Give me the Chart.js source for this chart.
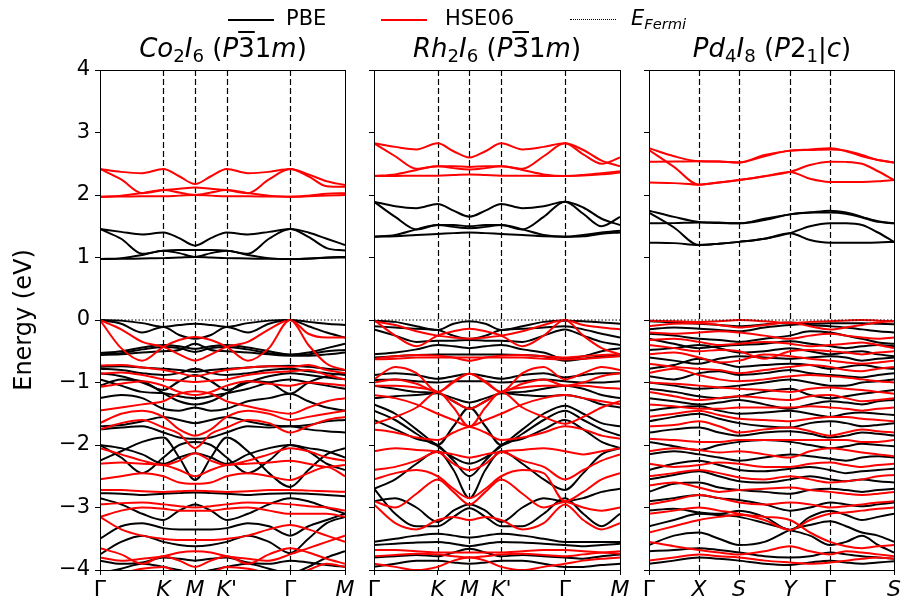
<!DOCTYPE html>
<html>
<head>
<meta charset="utf-8">
<script src="https://cdn.jsdelivr.net/npm/chart.js@4.4.1/dist/chart.umd.min.js"></script>
<style>
body { margin: 0; background: #fff; font-family: "DejaVu Sans", sans-serif; }
#wrap { position: relative; width: 903px; height: 603px; overflow: hidden; }
canvas { position: absolute; left: 0; top: 0; }
.ttl { position: absolute; top: 33px; width: 260px; text-align: center; font-size: 26px; color: #000; white-space: nowrap; }
.ttl sub { font-size: 0.7em; vertical-align: -0.25em; line-height: 0; }
.ov { text-decoration: overline; }
.leg { position: absolute; top: 6px; font-size: 21px; color: #000; white-space: nowrap; }
.leg sub { font-size: 0.7em; vertical-align: -0.3em; line-height: 0; }
.hl { position: absolute; top: 19px; height: 0; }
</style>
</head>
<body>
<div id="wrap">
  <canvas id="c1" width="903" height="603"></canvas>
  <canvas id="c2" width="903" height="603"></canvas>
  <canvas id="c3" width="903" height="603"></canvas>

  <div class="hl" style="left:228px;width:46px;border-top:2px solid #000"></div>
  <div class="leg" style="left:286px">PBE</div>
  <div class="hl" style="left:381px;width:46px;border-top:2px solid red"></div>
  <div class="leg" style="left:445px">HSE06</div>
  <div class="hl" style="left:570px;width:46px;border-top:1px dotted #000"></div>
  <div class="leg" style="left:631px"><i>E</i><sub><i>Fermi</i></sub></div>

  <div class="ttl" style="left:93px"><i>Co</i><sub>2</sub><i>I</i><sub>6</sub> (<i>P</i><span class="ov">3</span>1<i>m</i>)</div>
  <div class="ttl" style="left:367px"><i>Rh</i><sub>2</sub><i>I</i><sub>6</sub> (<i>P</i><span class="ov">3</span>1<i>m</i>)</div>
  <div class="ttl" style="left:642px"><i>Pd</i><sub>4</sub><i>I</i><sub>8</sub> (<i>P</i>2<sub>1</sub>|<i>c</i>)</div>
</div>
<script>
// k-path sampling (hexagonal: Γ-K-M-K'-Γ-M, monoclinic: Γ-X-S-Y-Γ-S)
const kHex = [0, 0.385, 0.770, 1.155, 1.443, 1.732, 2.021, 2.309, 2.694, 3.079, 3.464, 3.797, 4.131, 4.464];
const hexSym = [0, 1.155, 1.732, 2.309, 3.464, 4.464];
const hexLabels = ['Γ', 'K', 'M', "K'", 'Γ', 'M'];

const kPd = [0, 0.5, 1.0, 1.4, 1.8, 2.31, 2.82, 3.22, 3.62, 3.94, 4.26, 4.58, 4.9];
const pdSym = [0, 1.0, 1.8, 2.82, 3.62, 4.9];
const pdLabels = ['Γ', 'X', 'S', 'Y', 'Γ', 'S'];

// Co2I6
const coPbeCond = [
  [1.456, 1.41, 1.37, 1.40, 1.31, 1.19, 1.31, 1.40, 1.37, 1.41, 1.456, 1.40, 1.30, 1.20],
  [1.456, 1.30, 1.06, 1.11, 1.12, 1.12, 1.12, 1.11, 1.06, 1.30, 1.456, 1.33, 1.15, 1.11],
  [0.976, 0.99, 1.04, 1.11, 1.07, 1.01, 1.07, 1.11, 1.04, 0.99, 0.976, 0.98, 1.00, 1.01],
  [0.976, 0.978, 0.985, 0.99, 1.00, 1.01, 1.00, 0.99, 0.985, 0.978, 0.976, 0.985, 0.995, 1.00]
];
const coHseCond = [
  [2.416, 2.37, 2.35, 2.416, 2.30, 2.176, 2.30, 2.416, 2.35, 2.37, 2.416, 2.33, 2.22, 2.16],
  [2.416, 2.25, 2.03, 2.08, 2.10, 2.12, 2.10, 2.08, 2.03, 2.25, 2.416, 2.30, 2.14, 2.13],
  [1.973, 1.99, 2.03, 2.08, 2.04, 2.00, 2.04, 2.08, 2.03, 1.99, 1.973, 1.99, 2.02, 2.03],
  [1.973, 1.975, 1.98, 1.98, 1.99, 2.00, 1.99, 1.98, 1.98, 1.975, 1.973, 1.98, 1.99, 2.00]
];
const coPbeVal = [
  [0, -0.01, -0.05, -0.11, -0.08, -0.06, -0.08, -0.11, -0.05, -0.01, 0, -0.03, -0.06, -0.08],
  [0, -0.06, -0.20, -0.11, -0.24, -0.30, -0.24, -0.11, -0.20, -0.06, 0, -0.10, -0.20, -0.28],
  [-0.53, -0.50, -0.44, -0.40, -0.42, -0.46, -0.42, -0.40, -0.44, -0.50, -0.55, -0.52, -0.45, -0.38],
  [-0.55, -0.53, -0.47, -0.43, -0.45, -0.51, -0.45, -0.43, -0.47, -0.53, -0.56, -0.55, -0.50, -0.48],
  [-0.56, -0.55, -0.52, -0.50, -0.48, -0.38, -0.48, -0.50, -0.52, -0.55, -0.57, -0.57, -0.55, -0.52],
  [-0.75, -0.74, -0.76, -0.78, -0.80, -0.83, -0.80, -0.78, -0.76, -0.74, -0.73, -0.75, -0.78, -0.80],
  [-0.78, -0.80, -0.85, -0.88, -0.85, -0.78, -0.85, -0.88, -0.85, -0.80, -0.78, -0.82, -0.85, -0.88],
  [-0.85, -0.90, -1.00, -1.12, -0.98, -0.88, -0.98, -1.12, -1.00, -0.90, -0.85, -0.88, -0.92, -0.95],
  [-0.95, -1.05, -1.15, -1.17, -1.22, -1.25, -1.22, -1.17, -1.10, -1.00, -0.95, -1.00, -1.05, -1.10],
  [-1.05, -0.95, -0.98, -1.17, -1.30, -1.35, -1.30, -1.17, -0.98, -1.00, -1.18, -1.00, -0.90, -0.85],
  [-1.25, -1.20, -1.25, -1.42, -1.45, -1.40, -1.45, -1.42, -1.30, -1.25, -1.18, -1.30, -1.40, -1.45],
  [-1.70, -1.68, -1.62, -1.55, -1.60, -1.65, -1.60, -1.55, -1.62, -1.68, -1.70, -1.68, -1.62, -1.60],
  [-1.75, -1.72, -1.70, -1.80, -1.88, -1.90, -1.88, -1.80, -1.70, -1.72, -1.70, -1.75, -1.78, -1.80],
  [-2.25, -2.10, -1.95, -1.88, -2.20, -2.56, -2.20, -1.88, -2.10, -2.45, -2.67, -2.40, -2.15, -2.05],
  [-2.00, -2.20, -2.45, -2.20, -2.00, -1.95, -2.00, -2.20, -2.45, -2.25, -2.00, -2.10, -2.30, -2.40],
  [-2.00, -2.05, -2.15, -2.30, -2.20, -2.13, -2.20, -2.30, -2.15, -2.05, -2.00, -2.05, -2.10, -2.20],
  [-2.77, -2.78, -2.80, -2.78, -2.77, -2.76, -2.77, -2.78, -2.80, -2.78, -2.77, -2.78, -2.80, -2.82],
  [-2.85, -2.95, -3.10, -3.20, -3.05, -2.95, -3.05, -3.20, -3.10, -2.95, -2.85, -2.90, -3.00, -3.10],
  [-3.50, -3.30, -3.25, -3.33, -3.35, -3.35, -3.35, -3.33, -3.25, -3.30, -3.45, -3.30, -3.20, -3.10],
  [-3.75, -3.55, -3.45, -3.55, -3.60, -3.62, -3.60, -3.55, -3.45, -3.55, -3.73, -3.50, -3.25, -3.15],
  [-3.85, -3.90, -3.88, -3.80, -3.82, -3.85, -3.82, -3.80, -3.88, -3.90, -3.85, -3.88, -3.92, -3.95],
  [-4.05, -3.98, -3.90, -3.95, -4.00, -4.05, -4.00, -3.95, -3.90, -3.98, -4.05, -3.95, -3.80, -3.70]
];
const coHseVal = [
  [0, -0.45, -0.65, -0.43, -0.32, -0.27, -0.32, -0.43, -0.65, -0.45, 0, -0.22, -0.28, -0.28],
  [0, -0.15, -0.35, -0.43, -0.55, -0.65, -0.55, -0.43, -0.35, -0.15, 0, -0.40, -0.70, -0.80],
  [-0.73, -0.72, -0.76, -0.80, -0.85, -0.90, -0.85, -0.80, -0.76, -0.74, -0.75, -0.72, -0.80, -0.85],
  [-0.86, -0.84, -0.88, -0.95, -0.97, -0.99, -0.97, -0.95, -0.88, -0.84, -0.82, -0.80, -0.88, -0.95],
  [-1.07, -1.02, -0.98, -1.05, -1.15, -1.20, -1.15, -1.05, -0.98, -1.02, -1.05, -1.00, -1.02, -1.05],
  [-1.45, -1.40, -1.35, -1.30, -1.18, -1.14, -1.18, -1.30, -1.38, -1.45, -1.50, -1.40, -1.30, -1.25],
  [-1.65, -1.50, -1.45, -1.55, -1.75, -1.85, -1.75, -1.55, -1.45, -1.50, -1.60, -1.55, -1.50, -1.45],
  [-1.75, -1.65, -1.60, -1.72, -1.82, -2.05, -1.82, -1.72, -1.60, -1.65, -1.80, -1.70, -1.60, -1.55],
  [-2.05, -2.15, -2.25, -2.32, -2.25, -2.13, -2.25, -2.32, -2.25, -2.15, -2.05, -2.10, -2.20, -2.25],
  [-2.30, -2.28, -2.30, -2.32, -2.40, -2.50, -2.40, -2.32, -2.30, -2.28, -2.25, -2.30, -2.35, -2.32],
  [-2.55, -2.50, -2.45, -2.50, -2.60, -2.62, -2.60, -2.50, -2.45, -2.50, -2.56, -2.45, -2.35, -2.50],
  [-2.72, -2.72, -2.74, -2.75, -2.74, -2.73, -2.74, -2.75, -2.74, -2.72, -2.72, -2.73, -2.74, -2.75],
  [-2.95, -2.93, -2.92, -2.95, -2.98, -3.00, -2.98, -2.95, -2.92, -2.93, -2.95, -2.98, -3.00, -3.05],
  [-3.15, -3.05, -3.00, -3.02, -3.05, -3.05, -3.05, -3.02, -3.00, -3.05, -3.10, -3.10, -3.10, -3.15],
  [-3.15, -3.35, -3.45, -3.50, -3.52, -3.52, -3.52, -3.50, -3.45, -3.35, -3.28, -3.35, -3.45, -3.55],
  [-3.80, -3.85, -3.82, -3.78, -3.72, -3.70, -3.72, -3.78, -3.82, -3.85, -3.75, -3.65, -3.55, -3.45],
  [-3.65, -3.75, -3.90, -3.78, -3.85, -3.95, -3.85, -3.78, -3.90, -3.75, -3.65, -3.72, -3.82, -3.90],
  [-4.10, -4.05, -3.98, -3.95, -4.05, -4.10, -4.05, -3.95, -3.98, -4.05, -4.10, -4.00, -3.90, -3.95]
];

// Rh2I6
const rhPbeCond = [
  [1.893, 1.82, 1.79, 1.856, 1.75, 1.653, 1.75, 1.856, 1.79, 1.82, 1.893, 1.80, 1.62, 1.52],
  [1.893, 1.65, 1.45, 1.52, 1.52, 1.50, 1.52, 1.52, 1.45, 1.65, 1.893, 1.70, 1.50, 1.65],
  [1.333, 1.36, 1.45, 1.52, 1.49, 1.47, 1.49, 1.52, 1.45, 1.36, 1.333, 1.36, 1.40, 1.43],
  [1.333, 1.34, 1.36, 1.376, 1.39, 1.40, 1.39, 1.376, 1.36, 1.34, 1.333, 1.34, 1.38, 1.40]
];
const rhHseCond = [
  [2.827, 2.77, 2.73, 2.827, 2.70, 2.60, 2.70, 2.827, 2.73, 2.77, 2.827, 2.72, 2.55, 2.46],
  [2.827, 2.62, 2.42, 2.46, 2.46, 2.45, 2.46, 2.46, 2.42, 2.62, 2.827, 2.65, 2.50, 2.60],
  [2.304, 2.33, 2.40, 2.46, 2.43, 2.41, 2.43, 2.46, 2.40, 2.33, 2.304, 2.32, 2.35, 2.38],
  [2.304, 2.305, 2.31, 2.31, 2.32, 2.33, 2.32, 2.31, 2.31, 2.305, 2.304, 2.31, 2.33, 2.36]
];
const rhPbeVal = [
  [-0.01, -0.03, -0.10, -0.16, -0.06, -0.02, -0.06, -0.16, -0.10, -0.03, -0.01, -0.02, -0.04, -0.06],
  [-0.10, -0.12, -0.14, -0.16, -0.25, -0.30, -0.25, -0.16, -0.14, -0.12, -0.10, -0.15, -0.22, -0.28],
  [-0.15, -0.25, -0.35, -0.33, -0.33, -0.32, -0.33, -0.33, -0.35, -0.25, -0.15, -0.25, -0.35, -0.40],
  [-0.55, -0.52, -0.47, -0.40, -0.42, -0.45, -0.42, -0.40, -0.47, -0.52, -0.62, -0.58, -0.50, -0.45],
  [-0.60, -0.58, -0.56, -0.55, -0.55, -0.55, -0.55, -0.55, -0.56, -0.58, -0.65, -0.62, -0.58, -0.55],
  [-0.88, -0.85, -0.88, -0.94, -0.90, -0.86, -0.90, -0.94, -0.88, -0.85, -0.92, -0.88, -0.85, -0.85],
  [-0.96, -0.95, -0.98, -1.00, -0.98, -0.98, -0.98, -1.00, -0.98, -0.95, -0.98, -1.00, -1.00, -0.98],
  [-1.05, -1.10, -1.15, -1.17, -1.25, -1.32, -1.25, -1.17, -1.15, -1.10, -1.05, -1.10, -1.20, -1.25],
  [-1.25, -1.22, -1.20, -1.17, -1.30, -1.42, -1.30, -1.17, -1.20, -1.22, -1.20, -1.25, -1.35, -1.40],
  [-1.45, -1.60, -1.82, -2.00, -1.70, -1.40, -1.70, -2.00, -1.82, -1.60, -1.45, -1.60, -1.75, -1.85],
  [-1.60, -1.75, -1.90, -2.00, -2.25, -2.50, -2.25, -2.00, -1.90, -1.75, -1.60, -1.75, -1.95, -2.05],
  [-1.35, -1.50, -1.75, -2.02, -2.20, -2.30, -2.20, -2.02, -1.75, -1.50, -1.37, -1.50, -1.65, -1.70],
  [-2.70, -2.55, -2.30, -2.10, -2.40, -2.85, -2.40, -2.10, -2.30, -2.55, -2.72, -2.45, -2.15, -2.05],
  [-2.90, -2.85, -3.00, -3.23, -3.05, -2.95, -3.05, -3.23, -3.00, -2.85, -2.90, -2.85, -2.75, -2.70],
  [-2.70, -3.10, -3.30, -3.30, -3.15, -3.01, -3.15, -3.30, -3.30, -3.10, -2.85, -3.10, -3.30, -3.10],
  [-3.55, -3.50, -3.45, -3.42, -3.45, -3.48, -3.45, -3.42, -3.45, -3.50, -3.55, -3.55, -3.55, -3.55],
  [-3.60, -3.58, -3.56, -3.55, -3.58, -3.62, -3.58, -3.55, -3.56, -3.58, -3.60, -3.62, -3.60, -3.58],
  [-3.80, -3.78, -3.76, -3.78, -3.72, -3.66, -3.72, -3.78, -3.76, -3.78, -3.80, -3.82, -3.78, -3.75],
  [-3.95, -3.90, -3.85, -3.85, -3.88, -3.90, -3.88, -3.85, -3.85, -3.90, -3.95, -3.95, -3.92, -3.90]
];
const rhHseVal = [
  [0, -0.25, -0.42, -0.25, -0.18, -0.14, -0.18, -0.25, -0.42, -0.25, 0, -0.08, -0.12, -0.15],
  [-0.02, -0.08, -0.18, -0.25, -0.28, -0.30, -0.28, -0.25, -0.18, -0.08, 0, -0.25, -0.45, -0.55],
  [-0.62, -0.58, -0.56, -0.57, -0.60, -0.65, -0.60, -0.57, -0.56, -0.58, -0.60, -0.58, -0.56, -0.55],
  [-0.63, -0.62, -0.60, -0.60, -0.60, -0.60, -0.60, -0.60, -0.60, -0.62, -0.63, -0.62, -0.60, -0.58],
  [-0.95, -0.75, -0.85, -1.15, -1.00, -0.86, -1.00, -1.15, -0.85, -0.75, -0.95, -0.85, -0.75, -0.80],
  [-1.00, -0.95, -1.02, -1.15, -0.98, -0.86, -0.98, -1.15, -1.02, -0.95, -1.05, -1.00, -0.90, -0.85],
  [-1.05, -1.05, -1.08, -1.15, -1.30, -1.42, -1.30, -1.15, -1.08, -1.05, -1.05, -1.05, -1.08, -1.10],
  [-1.20, -1.25, -1.35, -1.50, -1.60, -1.70, -1.60, -1.50, -1.35, -1.25, -1.20, -1.25, -1.30, -1.35],
  [-1.66, -1.55, -1.40, -1.15, -1.40, -1.71, -1.40, -1.15, -1.40, -1.55, -1.66, -1.55, -1.40, -1.30],
  [-1.75, -1.80, -1.88, -1.92, -1.80, -1.71, -1.80, -1.92, -1.88, -1.80, -1.70, -1.75, -1.85, -1.90],
  [-2.10, -2.05, -2.08, -2.11, -2.30, -2.40, -2.30, -2.11, -2.08, -2.05, -2.10, -2.15, -2.10, -2.05],
  [-2.40, -2.35, -2.25, -2.11, -2.15, -2.20, -2.15, -2.11, -2.25, -2.35, -2.55, -2.40, -2.25, -2.15],
  [-2.55, -2.45, -2.40, -2.50, -2.70, -2.85, -2.70, -2.50, -2.40, -2.45, -2.90, -2.75, -2.55, -2.45],
  [-2.90, -3.00, -2.78, -2.55, -2.75, -2.95, -2.75, -2.55, -2.78, -3.00, -2.91, -3.00, -3.05, -3.00],
  [-2.95, -3.25, -3.35, -3.20, -3.15, -3.20, -3.15, -3.20, -3.35, -3.25, -2.95, -3.20, -3.35, -3.25],
  [-3.68, -3.68, -3.70, -3.72, -3.72, -3.72, -3.72, -3.72, -3.70, -3.68, -3.68, -3.70, -3.72, -3.74],
  [-3.78, -3.76, -3.74, -3.75, -3.78, -3.80, -3.78, -3.75, -3.74, -3.76, -3.78, -3.75, -3.72, -3.70],
  [-3.90, -3.95, -4.00, -3.95, -3.85, -3.80, -3.85, -3.95, -4.00, -3.95, -3.90, -3.85, -3.82, -3.80]
];

// Pd4I8
const pdPbeCond = [
  [1.75, 1.65, 1.57, 1.56, 1.547, 1.62, 1.69, 1.72, 1.75, 1.72, 1.65, 1.58, 1.547],
  [1.547, 1.55, 1.56, 1.55, 1.547, 1.60, 1.69, 1.72, 1.72, 1.70, 1.64, 1.57, 1.547],
  [1.72, 1.48, 1.20, 1.22, 1.25, 1.30, 1.39, 1.50, 1.547, 1.547, 1.52, 1.40, 1.25],
  [1.237, 1.23, 1.20, 1.22, 1.25, 1.30, 1.39, 1.28, 1.237, 1.237, 1.237, 1.24, 1.25]
];
const pdHseCond = [
  [2.747, 2.62, 2.54, 2.535, 2.52, 2.64, 2.71, 2.73, 2.747, 2.70, 2.62, 2.56, 2.52],
  [2.533, 2.535, 2.54, 2.535, 2.52, 2.62, 2.71, 2.72, 2.73, 2.71, 2.64, 2.56, 2.52],
  [2.72, 2.45, 2.165, 2.20, 2.24, 2.30, 2.37, 2.48, 2.533, 2.53, 2.50, 2.38, 2.24],
  [2.20, 2.19, 2.165, 2.20, 2.24, 2.30, 2.37, 2.26, 2.21, 2.21, 2.21, 2.22, 2.24]
];
const pdPbeVal = [
  [-0.02, -0.04, -0.06, -0.08, -0.10, -0.07, -0.04, -0.08, -0.10, -0.12, -0.15, -0.18, -0.20],
  [-0.15, -0.12, -0.14, -0.16, -0.18, -0.12, -0.08, -0.06, -0.05, -0.05, -0.05, -0.06, -0.07],
  [-0.22, -0.25, -0.30, -0.32, -0.35, -0.30, -0.25, -0.18, -0.20, -0.25, -0.30, -0.36, -0.38],
  [-0.30, -0.38, -0.45, -0.42, -0.40, -0.38, -0.34, -0.38, -0.42, -0.45, -0.42, -0.40, -0.42],
  [-0.48, -0.45, -0.40, -0.45, -0.52, -0.50, -0.45, -0.50, -0.55, -0.52, -0.50, -0.55, -0.58],
  [-0.60, -0.65, -0.70, -0.62, -0.58, -0.60, -0.62, -0.60, -0.58, -0.60, -0.65, -0.62, -0.60],
  [-0.78, -0.72, -0.62, -0.68, -0.75, -0.72, -0.70, -0.72, -0.78, -0.75, -0.72, -0.76, -0.78],
  [-0.90, -0.95, -0.85, -0.82, -0.88, -0.85, -0.80, -0.85, -0.88, -0.90, -0.92, -0.88, -0.85],
  [-1.00, -1.05, -1.10, -1.08, -1.05, -1.00, -0.95, -1.00, -1.05, -1.05, -1.00, -0.98, -0.95],
  [-1.10, -1.15, -1.22, -1.25, -1.22, -1.15, -1.10, -1.20, -1.25, -1.22, -1.18, -1.15, -1.12],
  [-1.25, -1.30, -1.35, -1.32, -1.28, -1.35, -1.42, -1.35, -1.30, -1.32, -1.35, -1.30, -1.28],
  [-1.45, -1.40, -1.38, -1.45, -1.50, -1.48, -1.45, -1.50, -1.55, -1.50, -1.48, -1.50, -1.52],
  [-1.62, -1.55, -1.50, -1.58, -1.65, -1.70, -1.72, -1.65, -1.62, -1.65, -1.70, -1.68, -1.65],
  [-1.80, -1.75, -1.72, -1.80, -1.85, -1.80, -1.78, -1.82, -1.88, -1.85, -1.80, -1.82, -1.85],
  [-1.95, -2.02, -2.08, -2.00, -1.95, -1.92, -1.95, -2.00, -2.05, -2.02, -1.98, -2.00, -2.02],
  [-2.15, -2.10, -2.15, -2.20, -2.25, -2.20, -2.15, -2.18, -2.22, -2.25, -2.20, -2.18, -2.20],
  [-2.40, -2.30, -2.25, -2.32, -2.40, -2.42, -2.38, -2.35, -2.40, -2.45, -2.42, -2.40, -2.38],
  [-2.55, -2.48, -2.42, -2.50, -2.58, -2.60, -2.55, -2.50, -2.55, -2.58, -2.55, -2.58, -2.60],
  [-2.75, -2.62, -2.60, -2.68, -2.72, -2.75, -2.78, -2.72, -2.70, -2.72, -2.75, -2.72, -2.70],
  [-2.90, -2.85, -2.80, -2.85, -2.88, -2.95, -3.05, -3.00, -2.92, -2.95, -2.98, -2.95, -2.92],
  [-3.05, -3.02, -3.08, -3.10, -3.05, -3.15, -3.36, -3.15, -3.05, -3.12, -3.20, -3.15, -3.10],
  [-3.30, -3.20, -3.10, -3.12, -3.15, -3.25, -3.36, -3.45, -3.60, -3.55, -3.45, -3.60, -3.72],
  [-3.60, -3.45, -3.40, -3.50, -3.60, -3.55, -3.36, -3.28, -3.22, -3.30, -3.40, -3.45, -3.55],
  [-3.70, -3.68, -3.65, -3.68, -3.72, -3.78, -3.80, -3.78, -3.72, -3.75, -3.78, -3.80, -3.82],
  [-3.90, -3.85, -3.80, -3.82, -3.85, -3.90, -3.92, -3.88, -3.85, -3.88, -3.90, -3.88, -3.86]
];
const pdHseVal = [
  [-0.01, -0.02, -0.03, -0.02, 0.00, -0.02, -0.05, -0.03, -0.02, -0.01, 0.00, -0.01, -0.02],
  [-0.10, -0.06, -0.05, -0.08, -0.12, -0.08, -0.04, -0.10, -0.15, -0.12, -0.08, -0.04, -0.02],
  [-0.20, -0.22, -0.20, -0.18, -0.20, -0.25, -0.30, -0.25, -0.22, -0.25, -0.28, -0.30, -0.28],
  [-0.32, -0.30, -0.35, -0.40, -0.38, -0.35, -0.38, -0.42, -0.40, -0.38, -0.36, -0.40, -0.45],
  [-0.40, -0.45, -0.50, -0.48, -0.50, -0.62, -0.50, -0.48, -0.50, -0.52, -0.55, -0.52, -0.50],
  [-0.55, -0.52, -0.60, -0.68, -0.65, -0.55, -0.58, -0.62, -0.65, -0.68, -0.70, -0.68, -0.65],
  [-0.70, -0.75, -0.78, -0.80, -0.85, -0.80, -0.75, -0.72, -0.75, -0.80, -0.82, -0.78, -0.75],
  [-0.85, -0.78, -0.88, -0.95, -0.98, -0.95, -0.90, -0.88, -0.90, -0.92, -0.95, -0.98, -1.00],
  [-1.00, -1.02, -1.05, -1.08, -1.10, -1.12, -1.15, -1.10, -1.08, -1.10, -1.12, -1.15, -1.18],
  [-1.15, -1.22, -1.28, -1.25, -1.22, -1.25, -1.28, -1.22, -1.20, -1.25, -1.30, -1.28, -1.25],
  [-1.35, -1.38, -1.42, -1.42, -1.40, -1.40, -1.40, -1.38, -1.40, -1.42, -1.45, -1.42, -1.40],
  [-1.55, -1.50, -1.45, -1.52, -1.58, -1.60, -1.62, -1.58, -1.55, -1.55, -1.58, -1.60, -1.62],
  [-1.70, -1.68, -1.62, -1.70, -1.80, -1.75, -1.72, -1.78, -1.85, -1.80, -1.75, -1.78, -1.80],
  [-1.90, -1.92, -1.95, -1.95, -1.92, -1.92, -1.92, -1.92, -1.92, -1.92, -1.95, -1.95, -1.92],
  [-2.10, -2.05, -2.08, -2.12, -2.10, -2.15, -2.20, -2.10, -2.05, -2.08, -2.12, -2.15, -2.18],
  [-2.30, -2.35, -2.32, -2.28, -2.30, -2.35, -2.35, -2.30, -2.28, -2.32, -2.35, -2.32, -2.30],
  [-2.50, -2.45, -2.40, -2.45, -2.52, -2.55, -2.50, -2.55, -2.60, -2.58, -2.55, -2.50, -2.48],
  [-2.65, -2.60, -2.68, -2.75, -2.72, -2.70, -2.68, -2.72, -2.75, -2.78, -2.80, -2.78, -2.75],
  [-2.95, -2.88, -2.80, -2.85, -2.92, -2.95, -2.92, -2.95, -3.00, -2.98, -2.95, -2.92, -2.90],
  [-3.10, -3.05, -3.00, -3.05, -3.10, -3.20, -3.36, -3.20, -3.10, -3.08, -3.05, -3.02, -3.00],
  [-3.40, -3.30, -3.20, -3.15, -3.12, -3.15, -3.20, -3.40, -3.55, -3.62, -3.65, -3.62, -3.60],
  [-3.55, -3.62, -3.68, -3.72, -3.75, -3.70, -3.62, -3.70, -3.75, -3.70, -3.72, -3.75, -3.78],
  [-3.85, -3.80, -3.75, -3.78, -3.80, -3.85, -3.88, -3.90, -3.88, -3.85, -3.82, -3.80, -3.82]
];

function bandSets(k, bands, color) {
  return bands.map(b => ({
    data: b.map((e, i) => ({ x: k[i], y: e })),
    borderColor: color,
    borderWidth: 2,
    pointRadius: 0,
    cubicInterpolationMode: 'monotone'
  }));
}

// dashed lines at the high-symmetry points and a closed frame
const frame = {
  id: 'frame',
  beforeDatasetsDraw(chart, args, opts) {
    const { ctx, chartArea: a, scales: { x } } = chart;
    ctx.save();
    ctx.strokeStyle = '#000';
    ctx.lineWidth = 1.2;
    ctx.setLineDash([6, 3]);
    opts.sym.slice(1, -1).forEach(v => {
      const px = Math.round(x.getPixelForValue(v)) + 0.5;
      ctx.beginPath();
      ctx.moveTo(px, a.top);
      ctx.lineTo(px, a.bottom);
      ctx.stroke();
    });
    ctx.restore();
  },
  afterDraw(chart) {
    const { ctx, chartArea: a } = chart;
    ctx.save();
    ctx.strokeStyle = '#000';
    ctx.lineWidth = 1;
    ctx.strokeRect(Math.round(a.left) + 0.5, Math.round(a.top) + 0.5, Math.round(a.right - a.left), Math.round(a.bottom - a.top));
    ctx.restore();
  }
};

function panel(id, k, sym, labels, pbe, hse, left, right, showY) {
  const yw = showY ? 100 : 10;
  const kEnd = k[k.length - 1];
  const fermi = {
    data: [{ x: 0, y: 0 }, { x: kEnd, y: 0 }],
    borderColor: '#000', borderWidth: 1.2, borderDash: [1.5, 2], pointRadius: 0
  };
  new Chart(document.getElementById(id), {
    type: 'line',
    data: { datasets: [fermi, ...bandSets(k, hse, 'red'), ...bandSets(k, pbe, '#000')] },
    plugins: [frame],
    options: {
      responsive: false,
      animation: false,
      devicePixelRatio: 1,
      layout: { padding: { left: left - yw, right: 903 - right, top: 70, bottom: 3 } },
      plugins: { legend: { display: false }, tooltip: { enabled: false }, frame: { sym: sym } },
      scales: {
        x: {
          type: 'linear', min: 0, max: kEnd,
          afterBuildTicks: s => { s.ticks = sym.map(v => ({ value: v })); },
          afterFit: s => { s.height = 30; },
          ticks: {
            autoSkip: false, maxRotation: 0, color: '#000', padding: 2,
            callback: (v, i) => labels[i],
            font: c => ({ family: 'DejaVu Sans', size: 22, style: labels[c.index] === 'Γ' ? 'normal' : 'italic' })
          },
          grid: { drawOnChartArea: false, tickLength: 5, color: '#000' },
          border: { display: false }
        },
        y: {
          min: -4, max: 4,
          afterFit: s => { s.width = yw; },
          ticks: {
            stepSize: 1, display: showY, color: '#000', padding: 5,
            font: { family: 'DejaVu Sans', size: 21 },
            callback: v => v < 0 ? '\u2212' + (-v) : '' + v
          },
          grid: { drawOnChartArea: false, tickLength: 5, color: '#000' },
          border: { display: false },
          title: {
            display: showY, text: 'Energy (eV)', color: '#000',
            font: { family: 'DejaVu Sans', size: 24 }, padding: { top: 10, bottom: 0 }
          }
        }
      }
    }
  });
}

panel('c1', kHex, hexSym, hexLabels, [...coPbeCond, ...coPbeVal], [...coHseCond, ...coHseVal], 100, 345, true);
panel('c2', kHex, hexSym, hexLabels, [...rhPbeCond, ...rhPbeVal], [...rhHseCond, ...rhHseVal], 374, 620, false);
panel('c3', kPd, pdSym, pdLabels, [...pdPbeCond, ...pdPbeVal], [...pdHseCond, ...pdHseVal], 649, 894, false);
</script>
</body>
</html>
